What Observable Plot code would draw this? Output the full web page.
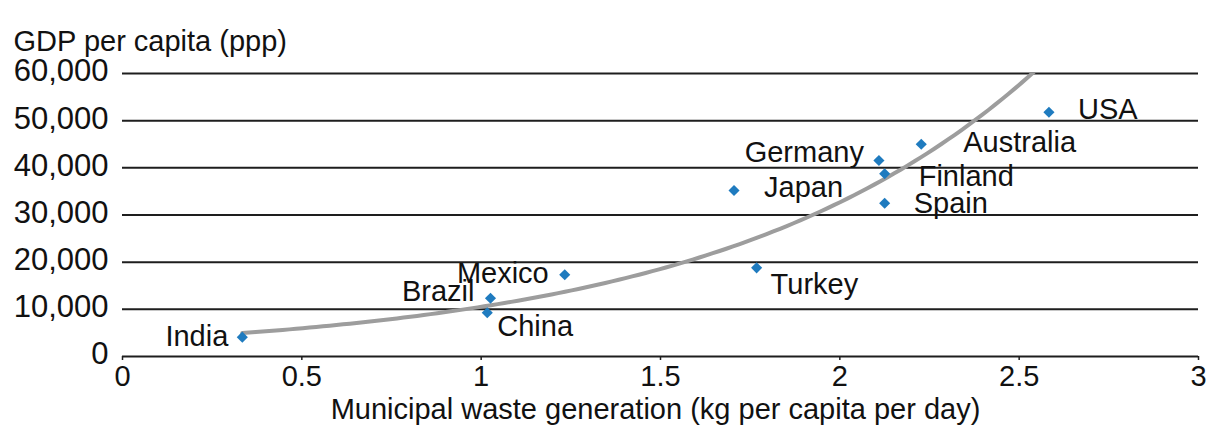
<!DOCTYPE html>
<html>
<head>
<meta charset="utf-8">
<script src="https://cdn.jsdelivr.net/npm/d3@7"></script>
<script src="https://cdn.jsdelivr.net/npm/@observablehq/plot@0.6"></script>
<style>
  html, body { margin: 0; padding: 0; background: #fff; }
  #chart svg { display: block; }
</style>
</head>
<body>
<div id="chart"></div>
<script>
// ---- data ----
const countries = ["India", "China", "Brazil", "Mexico", "Turkey", "Japan", "Germany", "Finland", "Spain", "Australia", "USA"];
const wasteKg = [0.334, 1.017, 1.026, 1.233, 1.768, 1.705, 2.109, 2.125, 2.125, 2.227, 2.583];
const gdpPpp = [4100, 9260, 12360, 17320, 18800, 35200, 41550, 38730, 32500, 45000, 51800];
const xTicks = [0, 0.5, 1, 1.5, 2, 2.5, 3];
const yTicks = [0, 10000, 20000, 30000, 40000, 50000, 60000];
const yTitle = "GDP per capita (ppp)";
const xTitle = "Municipal waste generation (kg per capita per day)";

// ---- label placement (style, not data) ----
const labelPlacement = {
  India:     {anchor: "end",   dx: -14, dy: 0},
  China:     {anchor: "start", dx: 10,  dy: 14},
  Brazil:    {anchor: "end",   dx: -16, dy: -6},
  Mexico:    {anchor: "end",   dx: -16, dy: -1},
  Turkey:    {anchor: "start", dx: 14,  dy: 17},
  Japan:     {anchor: "start", dx: 30,  dy: -3},
  Germany:   {anchor: "end",   dx: -15, dy: -8},
  Finland:   {anchor: "start", dx: 34,  dy: 3},
  Spain:     {anchor: "start", dx: 29,  dy: 1},
  Australia: {anchor: "start", dx: 42,  dy: -2},
  USA:       {anchor: "start", dx: 29,  dy: -2}
};

const points = countries.map((c, i) => ({country: c, x: wasteKg[i], y: gdpPpp[i]}));

// Exponential trend line (least-squares fit of ln(GDP) on waste), like a spreadsheet trendline
const mx = d3.mean(wasteKg);
const my = d3.mean(gdpPpp, v => Math.log(v));
const sxy = d3.sum(wasteKg, (x, i) => (x - mx) * (Math.log(gdpPpp[i]) - my));
const sxx = d3.sum(wasteKg, x => (x - mx) ** 2);
const b = sxy / sxx;
const a = Math.exp(my - b * mx);
const [xmin, xmax] = d3.extent(wasteKg);
const trend = d3.range(0, 121).map(k => {
  const x = xmin + (xmax - xmin) * k / 120;
  return {x, y: a * Math.exp(b * x)};
});

const FONT = "'Liberation Sans', Arial, Helvetica, sans-serif";
const FS = 29;
const FS_Y = 31;

const labelMarks = points.map(p => {
  const o = labelPlacement[p.country];
  return Plot.text([p], {
    x: "x", y: "y", text: "country",
    textAnchor: o.anchor, dx: o.dx, dy: o.dy,
    fontSize: FS, fill: "#111"
  });
});

const chart = Plot.plot({
  width: 1218,
  height: 434,
  marginLeft: 122,
  marginRight: 20,
  marginTop: 73,
  marginBottom: 78,
  style: {fontFamily: FONT, fontSize: FS + "px", color: "#111", background: "#fff"},
  x: {domain: [0, 3]},
  y: {domain: [0, 60000]},
  marks: [
    Plot.ruleY(yTicks, {stroke: "#1e1e1e", strokeWidth: 2}),
    Plot.axisX({ticks: xTicks, tickSize: 4, tickPadding: 5, tickFormat: d => String(d),
                fontSize: FS, label: null, stroke: "#1e1e1e", strokeWidth: 1.5}),
    Plot.axisY({ticks: yTicks, tickSize: 0, tickPadding: 14, tickFormat: d3.format(","),
                fontSize: FS_Y, label: null, dy: -2}),
    Plot.line(trend, {x: "x", y: "y", stroke: "#9d9d9d", strokeWidth: 4, clip: true, curve: "linear"}),
    Plot.dot(points, {x: "x", y: "y", symbol: "diamond2", r: 5, fill: "#1f7bbf", stroke: null}),
    ...labelMarks,
    Plot.text([yTitle], {frameAnchor: "top-left", text: d => d, textAnchor: "start",
                         dx: -109, dy: -43, fontSize: FS, fill: "#111"}),
    Plot.text([xTitle], {frameAnchor: "bottom", text: d => d, textAnchor: "middle",
                         dx: -5, dy: 62, fontSize: FS, fill: "#111"})
  ]
});
document.getElementById("chart").appendChild(chart);
</script>
</body>
</html>
